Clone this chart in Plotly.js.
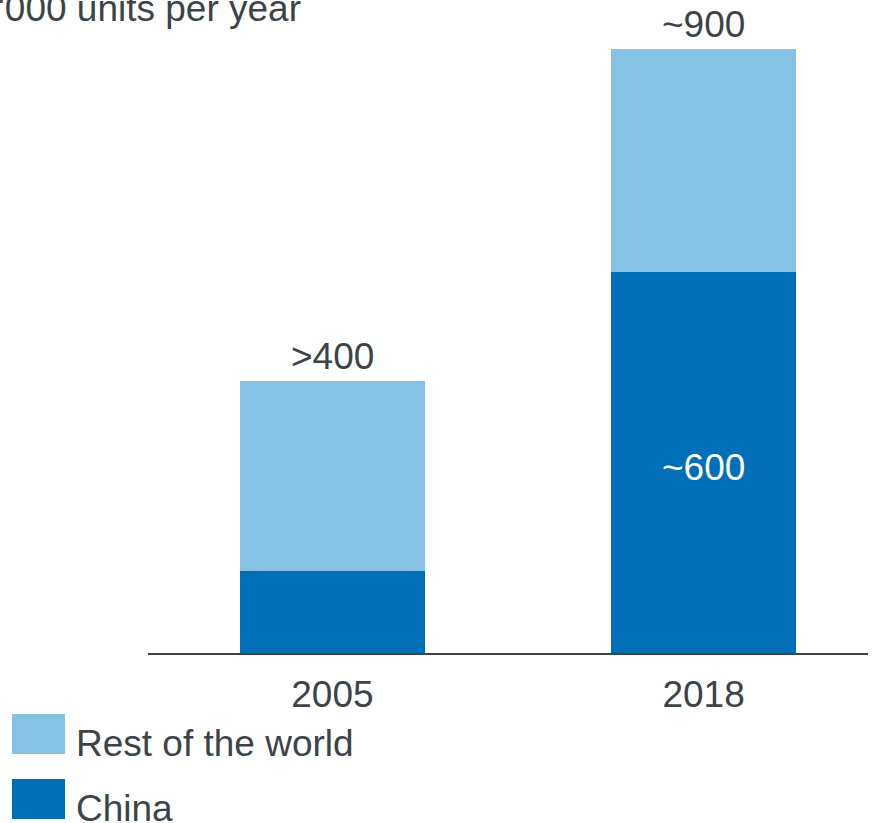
<!DOCTYPE html>
<html><head><meta charset="utf-8">
<script src="https://cdn.plot.ly/plotly-3.0.1.min.js"></script>
<style>html,body{margin:0;padding:0;background:#fff;}#chart{width:884px;height:823px;}</style>
</head><body><div id="chart"></div>
<script>
const years = ['2005', '2018'];
const xpos = [0, 1];
const china = [122, 568];
const restOfWorld = [283, 332];
const totalLabels = ['>400', '~900'];
const chinaLabels = ['', '~600'];
const seriesNames = ['China', 'Rest of the world'];
const unitTitle = "'000 units per year";

const TXT = '#3d4449';
const DARK = '#006fb8';
const LIGHT = '#86c2e6';
const FONT = 'Liberation Sans, Arial, sans-serif';
const FS = 37;

const totals = china.map((c, i) => c + restOfWorld[i]);

const traces = [
  {type: 'bar', x: xpos, y: china, name: seriesNames[0], marker: {color: DARK}, width: 0.499, showlegend: false, hoverinfo: 'skip'},
  {type: 'bar', x: xpos, y: restOfWorld, name: seriesNames[1], marker: {color: LIGHT}, width: 0.499, showlegend: false, hoverinfo: 'skip'}
];

const annotations = [];
xpos.forEach((x, i) => {
  annotations.push({x: x, y: totals[i], xref: 'x', yref: 'y', text: totalLabels[i], showarrow: false,
    yanchor: 'bottom', yshift: 2, font: {family: FONT, size: FS, color: TXT}});
  if (chinaLabels[i]) {
    annotations.push({x: x, y: china[i] / 2, xref: 'x', yref: 'y', text: chinaLabels[i], showarrow: false,
      yanchor: 'middle', yshift: -5, font: {family: FONT, size: FS, color: '#ffffff'}});
  }
});

// legend (custom, large swatches)
const py = p => (653 - p) / 604;
const px = p => (p - 148) / 720;
const legendItems = [
  {name: seriesNames[1], color: LIGHT, top: 714, bot: 754},
  {name: seriesNames[0], color: DARK, top: 779, bot: 819}
];
const shapes = [];
legendItems.forEach(it => {
  shapes.push({type: 'rect', xref: 'paper', yref: 'paper', x0: px(12), x1: px(65), y0: py(it.bot), y1: py(it.top),
    fillcolor: it.color, line: {width: 0}});
  annotations.push({xref: 'paper', yref: 'paper', x: px(74), y: py((it.top + it.bot) / 2 + 9), xanchor: 'left', yanchor: 'middle',
    text: it.name, showarrow: false, font: {family: FONT, size: FS, color: TXT}});
});

const layout = {
  width: 884, height: 823,
  margin: {l: 148, r: 16, t: 49, b: 170},
  paper_bgcolor: '#ffffff', plot_bgcolor: '#ffffff',
  barmode: 'stack',
  showlegend: false,
  title: {text: unitTitle, xref: 'paper', x: px(301), xanchor: 'right', y: 1 - 8 / 823, yanchor: 'middle',
    font: {family: FONT, size: FS, color: TXT}},
  xaxis: {range: [-0.497, 1.443], tickvals: xpos, ticktext: years, showgrid: false, zeroline: false,
    showline: true, linecolor: TXT, linewidth: 2, ticks: '', ticklabelstandoff: 8,
    tickfont: {family: FONT, size: FS, color: TXT}, fixedrange: true},
  yaxis: {range: [0, 900], visible: false, showgrid: false, zeroline: false, fixedrange: true},
  annotations: annotations,
  shapes: shapes
};

Plotly.newPlot('chart', traces, layout, {displayModeBar: false, staticPlot: true});
</script></body></html>
